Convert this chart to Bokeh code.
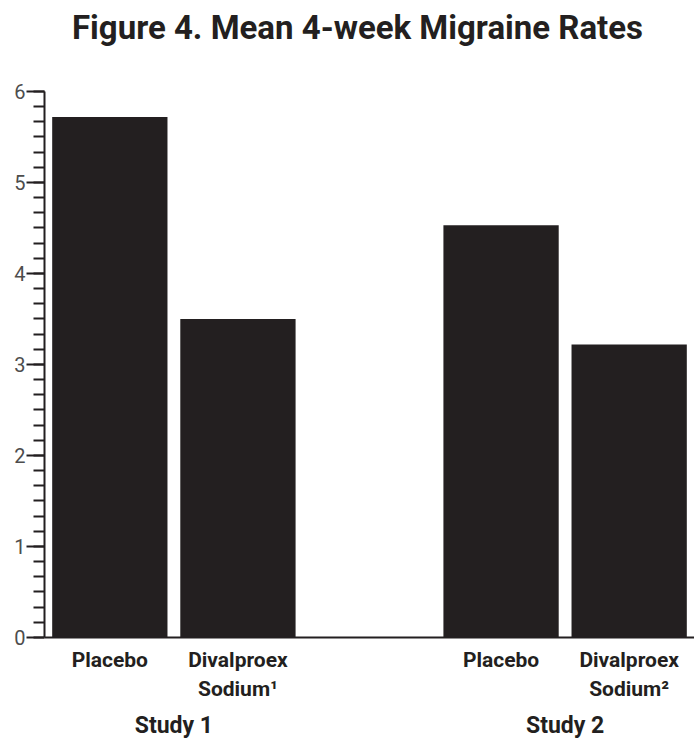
from bokeh.plotting import figure
from bokeh.models import FactorRange, Span, SingleIntervalTicker, ColumnDataSource, Label
from bokeh.core.properties import value
from bokeh.embed import file_html
from bokeh.resources import INLINE

# ---- data ----
studies = ["Study 1", "Study 2"]
treatments = ["Placebo", "Divalproex Sodium"]
study1_rates = [5.72, 3.50]
study2_rates = [4.53, 3.22]
sub_labels = ["Placebo", "Divalproex\nSodium\u00b9", "Placebo", "Divalproex\nSodium\u00b2"]
title_text = "Figure 4. Mean 4-week Migraine Rates"

FONT = "Roboto"
INK = "#231f20"

factors = [(s, f"{t} {i}") for i, s in enumerate(studies, 1) for t in treatments]
rates = study1_rates + study2_rates

x_range = FactorRange(*factors, group_padding=1.054, range_padding=0.01,
                      range_padding_units="absolute")

p = figure(width=694, height=740, x_range=x_range, y_range=(-1.132, 7.0),
           output_backend="svg", toolbar_location=None,
           min_border_left=44, min_border_right=0, min_border_bottom=0, min_border_top=0)

src = ColumnDataSource(dict(x=factors, top=rates))
p.vbar(x="x", top="top", width=0.9, source=src, fill_color=INK, line_color=None)

# baseline
p.add_layout(Span(location=0, dimension="width", line_color=INK, line_width=2))

# title
p.add_layout(Label(x=313, x_units="screen", y=6.92, text=title_text,
                   text_align="center", text_baseline="top",
                   text_font=FONT, text_font_size="33px", text_font_style="bold",
                   text_color=INK))

# sub labels
lab_src = ColumnDataSource(dict(x=factors, y=[-0.12] * 4, text=sub_labels))
p.text(x="x", y="y", text="text", source=lab_src, text_align="center",
       text_baseline="top", text_font=value(FONT), text_font_size="21px",
       text_font_style="bold", text_color=INK, text_line_height=1.19)

# group labels
grp_src = ColumnDataSource(dict(x=studies, y=[-0.82] * 2, text=studies))
p.text(x="x", y="y", text="text", source=grp_src, text_align="center",
       text_baseline="top", text_font=value(FONT), text_font_size="23px",
       text_font_style="bold", text_color=INK)

p.xaxis.visible = False
p.xgrid.visible = False
p.ygrid.visible = False
p.outline_line_color = None

yax = p.yaxis[0]
yax.ticker = SingleIntervalTicker(interval=1, num_minor_ticks=6)
yax.bounds = (0, 6)
yax.axis_line_color = INK
yax.axis_line_width = 2
yax.major_tick_line_color = INK
yax.major_tick_line_width = 2
yax.major_tick_out = 18
yax.major_tick_in = 0
yax.minor_tick_line_color = INK
yax.minor_tick_line_width = 2
yax.minor_tick_out = 11
yax.minor_tick_in = 0
yax.major_label_standoff = 1
yax.major_label_text_font = FONT
yax.major_label_text_font_size = "20px"
yax.major_label_text_color = "#4d4d4d"

open("out.html", "w").write(file_html(p, INLINE))
